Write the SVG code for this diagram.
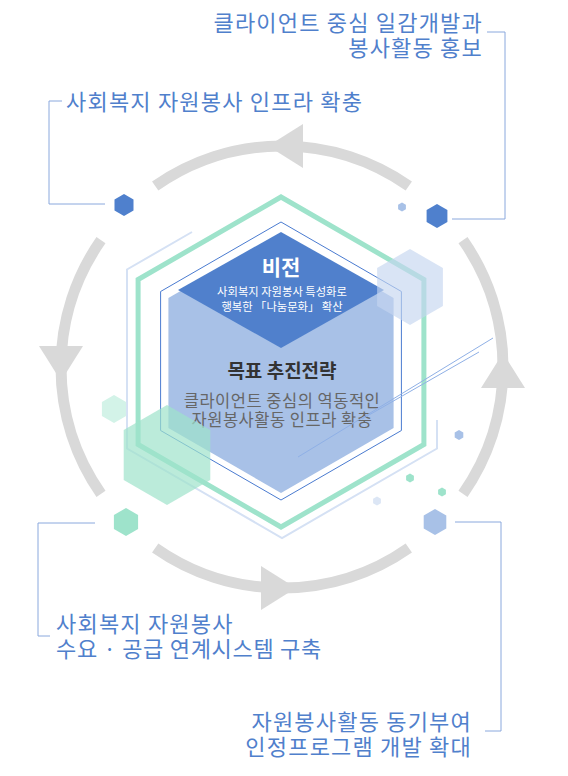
<svg xmlns="http://www.w3.org/2000/svg" width="568" height="776" viewBox="0 0 568 776">
<style>
text{font-family:"Noto Sans CJK KR","Noto Sans",sans-serif}
.lbl{fill:#5080cc;font-size:22px;font-weight:normal;letter-spacing:1.2px}
.arc{fill:none;stroke:#d9d9d9;stroke-width:11}
.head{fill:#d9d9d9}
.brk{fill:none;stroke:#8aa8dd;stroke-width:1}
.dk{fill:#4f80cd}
.mint{fill:#9ee3cb}
.lb{fill:#a8c1e7}
</style>
<rect width="568" height="776" fill="#ffffff"/>
<g id="connectors">
<path class="arc" d="M155.2,186 A221,221 0 0 1 408.8,186"/>
<path class="arc" d="M463,240.2 A221,221 0 0 1 463,493.8"/>
<path class="arc" d="M408.8,548 A221,221 0 0 1 155.2,548"/>
<path class="arc" d="M101,493.8 A221,221 0 0 1 101,240.2"/>
<polygon class="head" points="268,146 303,124 303,168"/>
<polygon class="head" points="61,381 39,346 83,346"/>
<polygon class="head" points="296,588 261,566 261,610"/>
<polygon class="head" points="503,353 481,388 525,388"/>
<path class="brk" d="M487,32 H505 V219 H452"/>
<path class="brk" d="M62,101 H49 V204 H105"/>
<path class="brk" d="M95,523 H38 V636 H50"/>
<path class="brk" d="M455,522 H501 V731 H485"/>
</g>
<g id="decor">
<path d="M192,232 L127,269.5 L127,448.5 L282,538 L437,448.5 L437,420" fill="none" stroke="#d5e1f4" stroke-width="2"/>
<polygon points="114,395 126.1,402 126.1,416 114,423 101.9,416 101.9,402" fill="#d3f3e8"/>
</g>
<g id="center">
<polygon points="281,197 423.9,279.5 423.9,444.5 281,527 138.1,444.5 138.1,279.5" fill="none" stroke="#9ee3cb" stroke-width="5"/>
<polygon points="281,222 401.4,291.5 401.4,430.5 281,500 160.6,430.5 160.6,291.5" fill="none" stroke="#4a7bd0" stroke-width="1"/>
<polygon points="281,233 393.6,298 393.6,428 281,493 168.4,428 168.4,298" fill="#a8c1e7"/>
</g>
<g id="vision">
<polygon points="281,232 384,290 281,348 178,290" fill="#5080cc"/>
<text x="281" y="275" text-anchor="middle" fill="#ffffff" font-size="21" font-weight="bold">비전</text>
<text x="282" y="296" text-anchor="middle" fill="#ffffff" font-size="11.3">사회복지 자원봉사 특성화로</text>
<text x="282" y="311" text-anchor="middle" fill="#ffffff" font-size="11.3">행복한 「나눔문화」 확산</text>
</g>
<g id="goal">
<text x="282" y="378" text-anchor="middle" fill="#333333" font-size="19" font-weight="bold">목표 추진전략</text>
<text x="282" y="407" text-anchor="middle" fill="#666666" font-size="16.5" letter-spacing="0.5">클라이언트 중심의 역동적인</text>
<text x="282" y="426" text-anchor="middle" fill="#666666" font-size="16.5" letter-spacing="0.5">자원봉사활동 인프라 확충</text>
</g>
<g id="decor-top">
<polygon points="167,405 210.3,430 210.3,480 167,505 123.7,480 123.7,430" fill="#9ee3cb" opacity="0.7"/>
<polygon points="410,249 442.9,268 442.9,306 410,325 377.1,306 377.1,268" fill="#c5d6ef" opacity="0.65"/>
<line x1="493" y1="338" x2="298" y2="457" stroke="#8fb0e6" stroke-width="1"/>
<line x1="479" y1="352" x2="362" y2="419" stroke="#8fb0e6" stroke-width="1"/>
<polygon class="lb" points="402,202.5 405.9,204.8 405.9,209.2 402,211.5 398.1,209.2 398.1,204.8"/>
<polygon class="lb" points="459,430 463.3,432.5 463.3,437.5 459,440 454.7,437.5 454.7,432.5"/>
<polygon class="mint" points="410,473.5 413.9,475.8 413.9,480.2 410,482.5 406.1,480.2 406.1,475.8"/>
<polygon class="mint" points="442,487.5 445.9,489.8 445.9,494.2 442,496.5 438.1,494.2 438.1,489.8"/>
<polygon points="377,496.5 380.9,498.8 380.9,503.2 377,505.5 373.1,503.2 373.1,498.8" fill="#dce6f5"/>
</g>
<g id="item-top-left">
<polygon class="dk" points="124,194 133.5,199.5 133.5,210.5 124,216 114.5,210.5 114.5,199.5"/>
<text class="lbl" x="66" y="110">사회복지 자원봉사 인프라 확충</text>
</g>
<g id="item-top-right">
<polygon class="dk" points="437,204 447.4,210 447.4,222 437,228 426.6,222 426.6,210"/>
<text class="lbl" x="483" y="31" text-anchor="end">클라이언트 중심 일감개발과</text>
<text class="lbl" x="483" y="56" text-anchor="end">봉사활동 홍보</text>
</g>
<g id="item-bottom-left">
<polygon class="mint" points="126,508 138.1,515 138.1,529 126,536 113.9,529 113.9,515"/>
<text class="lbl" x="56" y="632">사회복지 자원봉사</text>
<text class="lbl" x="56" y="657" style="letter-spacing:0.7px">수요 · 공급 연계시스템 구축</text>
</g>
<g id="item-bottom-right">
<polygon class="lb" points="435,509 446.3,515.5 446.3,528.5 435,535 423.7,528.5 423.7,515.5"/>
<text class="lbl" x="472" y="730" text-anchor="end">자원봉사활동 동기부여</text>
<text class="lbl" x="472" y="755" text-anchor="end">인정프로그램 개발 확대</text>
</g>
</svg>
